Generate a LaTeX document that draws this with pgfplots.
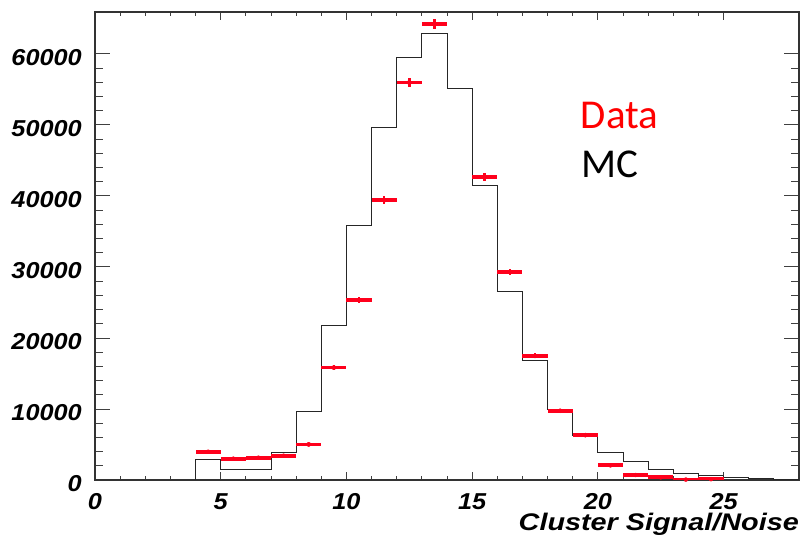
\documentclass[border=0pt]{standalone}
\usepackage{pgfplots}
\pgfplotsset{compat=1.18}
\usepackage{fontspec}
\setmainfont{Liberation Sans}
\newfontfamily\tickfont[FakeStretch=1.1]{Liberation Sans}
\newfontfamily\labfont[FakeStretch=1.2]{Liberation Sans}
\newfontfamily\legfont{Carlito}
\definecolor{datared}{RGB}{255,0,28}

\begin{document}
\begin{tikzpicture}
\useasboundingbox (-95pt,-65pt) rectangle (708pt,480pt);
\begin{axis}[
    at={(0,0)}, anchor=south west,
    scale only axis,
    width=704pt, height=468pt,
    xmin=0, xmax=28,
    ymin=0, ymax=65900,
    xtick={0,5,...,25},
    minor x tick num=4,
    ytick={0,10000,...,60000},
    minor y tick num=4,
    tick align=inside,
    major tick length=15pt,
    minor tick length=8pt,
    every major x tick/.style={/pgfplots/major tick length=8pt},
    every minor x tick/.style={/pgfplots/minor tick length=4pt},
    tick style={line width=0.9pt, black!75},
    axis line style={line width=1.2pt, black!80},
    scaled y ticks=false,
    /pgf/number format/assume math mode=true,
    /pgf/number format/1000 sep={},
    ticklabel style={font=\tickfont\bfseries\itshape\fontsize{23}{27}\selectfont},
    yticklabel style={inner sep=0pt, xshift=-13pt, yshift=-4pt},
    xticklabel style={inner sep=0pt, yshift=-13pt},
    xlabel={Cluster Signal/Noise},
    x label style={at={(rel axis cs:1,0)}, anchor=base east, inner sep=0pt,
        yshift=-51pt, font=\labfont\bfseries\itshape\fontsize{24}{28}\selectfont},
]

% MC histogram, one point per bin left edge
\addplot[const plot mark left, black!85, line width=0.9pt] coordinates {
    (0,0) (4,2900) (5,1500) (6,1500) (7,3840) (8,9700) (9,21700)
    (10,35800) (11,49700) (12,59500) (13,62850) (14,55140) (15,41500)
    (16,26560) (17,16860) (18,9980) (19,6320) (20,3930) (21,2670)
    (22,1550) (23,940) (24,610) (25,370) (26,190) (27,50) (28,50)
};

% data: bin width bars
\addplot[only marks, mark=none, datared,
    error bars/.cd, x dir=both, x explicit, error mark=none,
    error bar style={line width=3.8pt, datared}]
    table[x error=ex] {
x y ex
4.5 3980 0.5
5.5 3000 0.5
6.5 3140 0.5
7.5 3420 0.5
8.5 5010 0.5
9.5 15830 0.5
10.5 25340 0.5
11.5 39390 0.5
12.5 55980 0.5
13.5 64250 0.5
15.5 42660 0.5
16.5 29270 0.5
17.5 17470 0.5
18.5 9740 0.5
19.5 6320 0.5
20.5 2060 0.5
21.5 700 0.5
22.5 370 0.5
23.5 60 0.5
24.5 120 0.5
};

% data: statistical errors
\addplot[only marks, mark=none, datared,
    error bars/.cd, y dir=both, y explicit, error mark=none,
    error bar style={line width=2.5pt, datared}]
    table[y error=ey] {
x y ey
8.5 5010 150
9.5 15830 300
10.5 25340 420
11.5 39390 550
12.5 55980 650
13.5 64250 700
15.5 42660 550
16.5 29270 450
17.5 17470 350
18.5 9740 250
19.5 6320 150
};

\node[anchor=base west, inner sep=0pt, text=red,
    font=\legfont\fontsize{41}{48}\selectfont] at (axis cs:19.32,49520) {Data};
\node[anchor=base west, inner sep=0pt, text=black,
    font=\legfont\fontsize{41}{48}\selectfont] at (axis cs:19.35,42560) {MC};
\end{axis}
\end{tikzpicture}
\end{document}
